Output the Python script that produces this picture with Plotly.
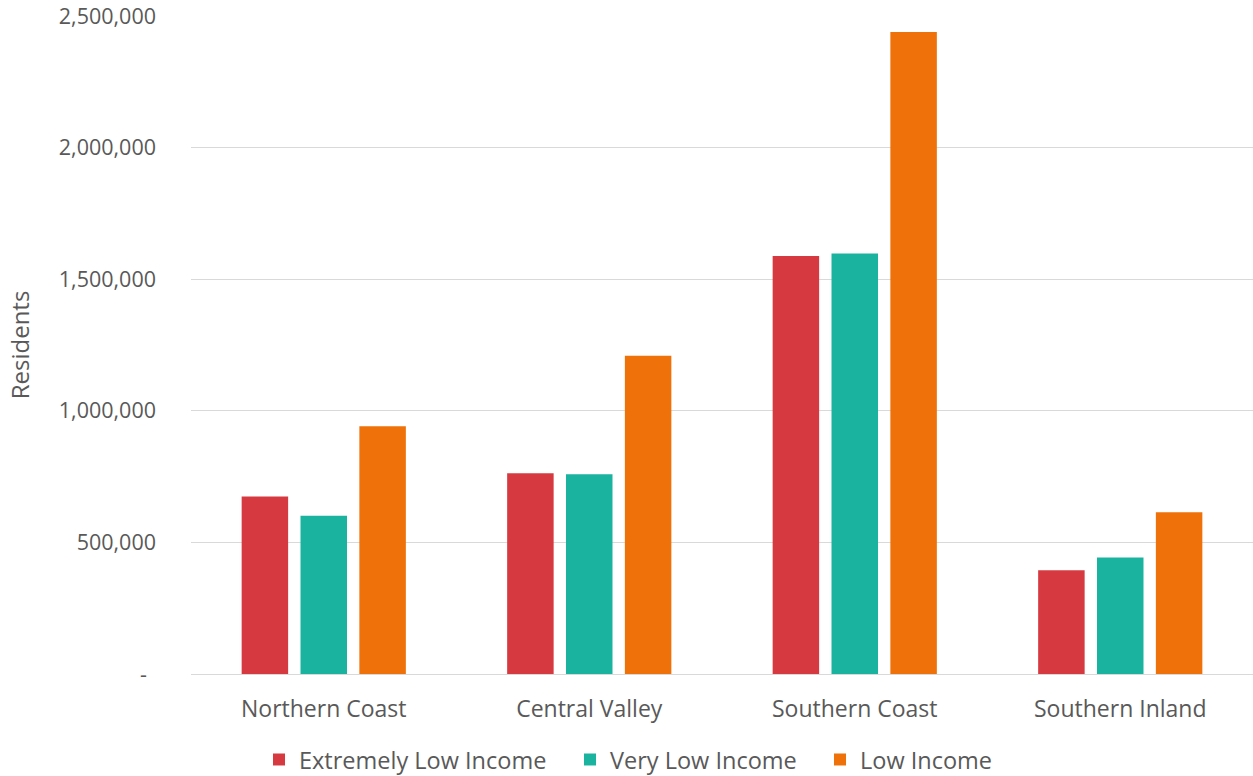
import plotly.graph_objects as go

regions = ["Northern Coast", "Central Valley", "Southern Coast", "Southern Inland"]
extremely_low = [674000, 763000, 1588000, 394000]
very_low = [601000, 759000, 1598000, 443000]
low = [941000, 1209000, 2439000, 615000]

series = [
    ("Extremely Low Income", extremely_low, "#D63A40"),
    ("Very Low Income", very_low, "#1AB39F"),
    ("Low Income", low, "#EF710A"),
]

tick_values = [0, 500000, 1000000, 1500000, 2000000, 2500000]
tick_labels = ["-\u00a0\u2009", "500,000", "1,000,000", "1,500,000", "2,000,000", "2,500,000"]

FONT = "Open Sans"
GREY = "#595959"
W, H = 1253, 776

# each series gets its own legend so the entries can be spaced out freely
legend_ids = ["legend", "legend2", "legend3"]
legend_left_px = [259, 570, 820]

fig = go.Figure()
for (name, vals, color), lid in zip(series, legend_ids):
    fig.add_trace(go.Bar(
        x=regions, y=vals, name=name, legend=lid,
        marker=dict(color=color, line=dict(width=0)),
    ))

legend_common = dict(
    orientation="h", xref="container", yref="container",
    xanchor="left", y=0.021, yanchor="middle",
    font=dict(size=23.5, color=GREY), itemwidth=30,
    bgcolor="rgba(0,0,0,0)",
)

fig.update_layout(
    width=W, height=H,
    margin=dict(l=191, r=0, t=16, b=102, autoexpand=False),
    paper_bgcolor="white", plot_bgcolor="white",
    barmode="group", bargap=0.335, bargroupgap=0.21,
    font=dict(family=FONT, color=GREY, size=21),
    showlegend=True,
    legend=dict(x=legend_left_px[0] / W, **legend_common),
    legend2=dict(x=legend_left_px[1] / W, **legend_common),
    legend3=dict(x=legend_left_px[2] / W, **legend_common),
)

fig.update_xaxes(
    showgrid=False, showline=True, linecolor="#D9D9D9", linewidth=1,
    ticks="", ticklabelstandoff=14, tickfont=dict(size=23, color=GREY),
)
fig.update_yaxes(
    range=[0, 2500000], tickvals=tick_values, ticktext=tick_labels,
    showgrid=True, gridcolor="#D9D9D9", gridwidth=1,
    zeroline=False, showline=False, ticks="",
    ticklabelstandoff=34,
    tickfont=dict(size=21.5, color=GREY),
    title=dict(text="Residents", font=dict(size=24, color=GREY), standoff=22),
)

fig.write_html("out.html")
